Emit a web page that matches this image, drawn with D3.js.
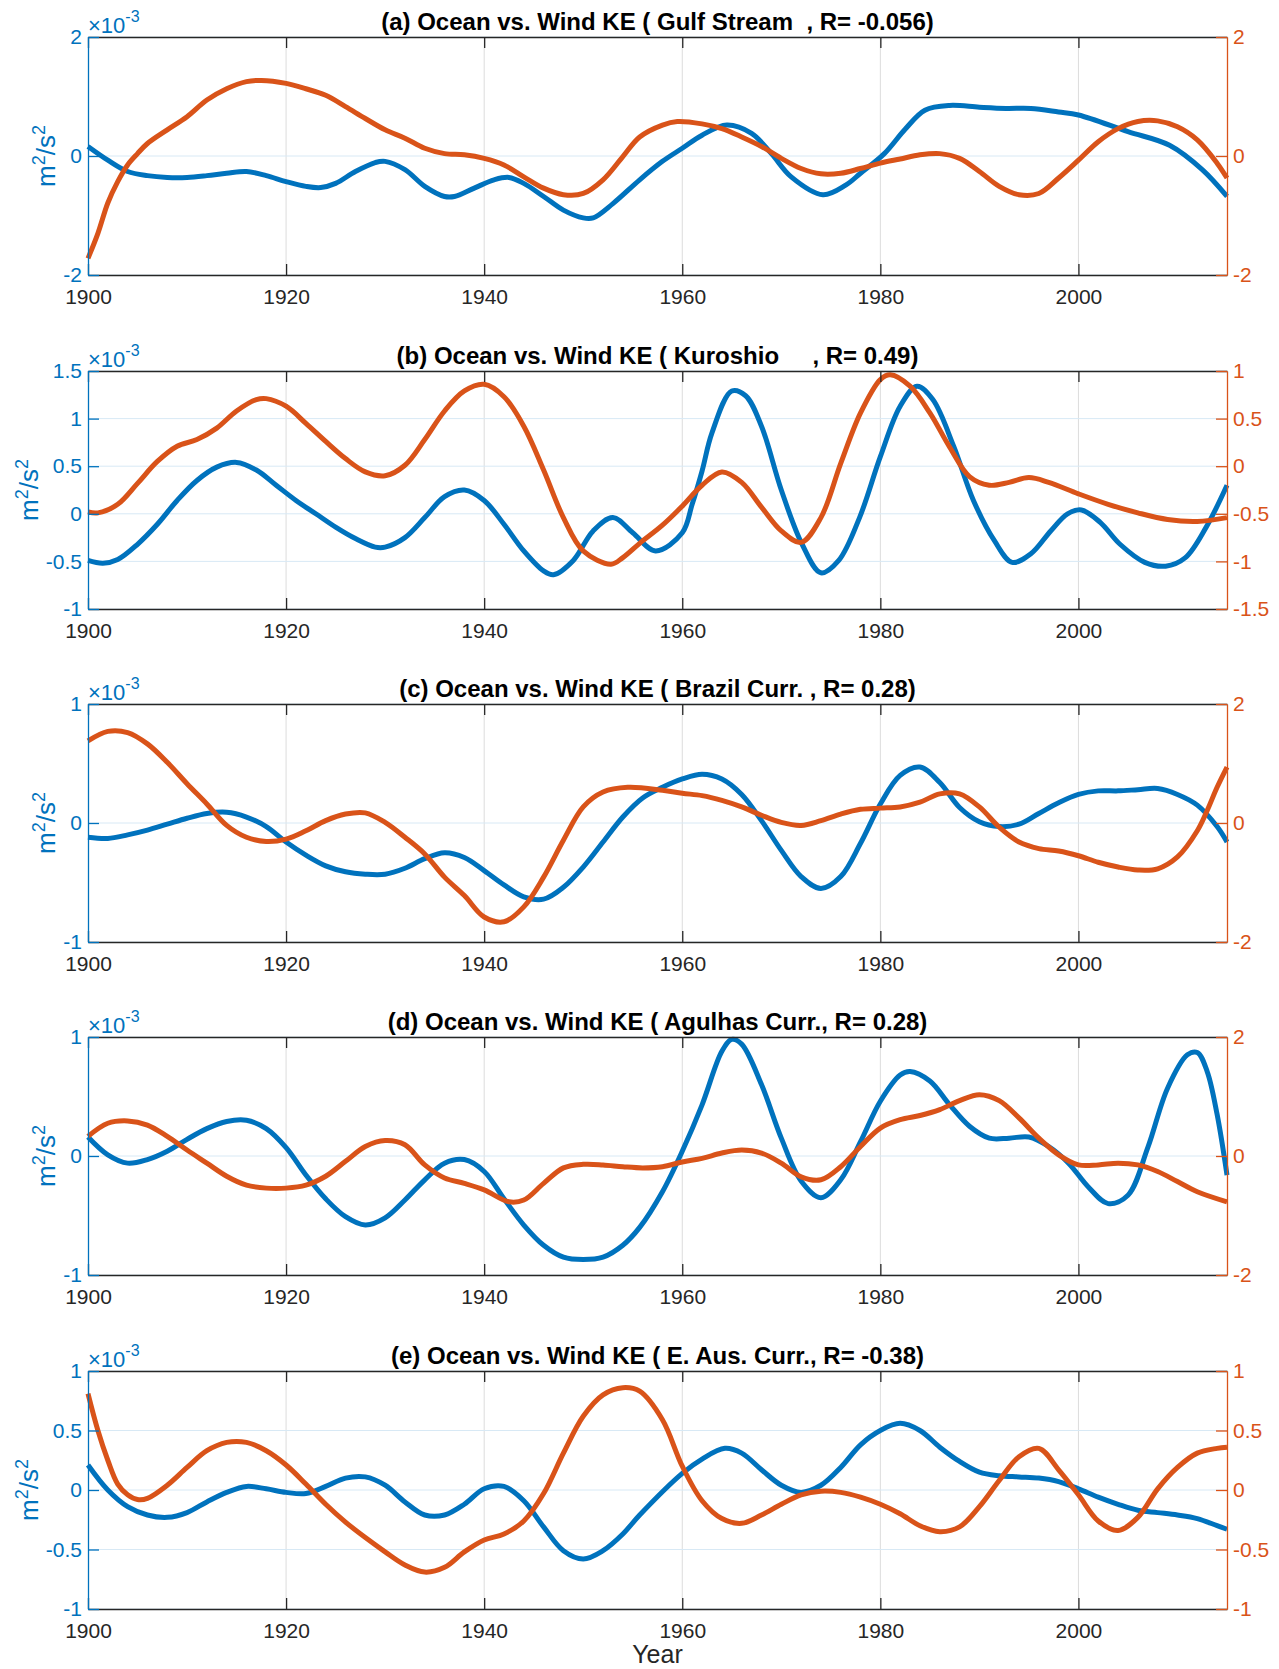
<!DOCTYPE html>
<html>
<head>
<meta charset="utf-8">
<script src="https://cdn.jsdelivr.net/npm/d3@7"></script>
<style>
  body { margin: 0; background: #fff; }
  svg { display: block; font-family: "Liberation Sans", Arial, Helvetica, sans-serif; }
</style>
</head>
<body>
<svg id="chart"></svg>
<script>
// Ocean vs wind KE, five current systems, yyaxis style panels
const W = 1279, H = 1669;

// ---- data (ocean KE in 1e-3 m2/s2 on left axis, wind KE on right axis) ----
const xDomain = [1900, 2015];
const xTicks = [1900, 1920, 1940, 1960, 1980, 2000];

const titles = [
  "(a) Ocean vs. Wind KE ( Gulf Stream  , R= -0.056)",
  "(b) Ocean vs. Wind KE ( Kuroshio     , R= 0.49)",
  "(c) Ocean vs. Wind KE ( Brazil Curr. , R= 0.28)",
  "(d) Ocean vs. Wind KE ( Agulhas Curr., R= 0.28)",
  "(e) Ocean vs. Wind KE ( E. Aus. Curr., R= -0.38)"
];
const leftDomains = [[-2, 2], [-1, 1.5], [-1, 1], [-1, 1], [-1, 1]];
const leftTicks = [[-2, 0, 2], [-1, -0.5, 0, 0.5, 1, 1.5], [-1, 0, 1], [-1, 0, 1], [-1, -0.5, 0, 0.5, 1]];
const rightDomains = [[-2, 2], [-1.5, 1], [-2, 2], [-2, 2], [-1, 1]];
const rightTicks = [[-2, 0, 2], [-1.5, -1, -0.5, 0, 0.5, 1], [-2, 0, 2], [-2, 0, 2], [-1, -0.5, 0, 0.5, 1]];

const gulfOcean = [[1900,0.16],[1902,-0.07],[1904,-0.26],[1906,-0.33],[1908,-0.36],[1910,-0.36],[1912,-0.33],[1914,-0.29],[1916,-0.26],[1918,-0.33],[1920,-0.43],[1922,-0.51],[1923.5,-0.53],[1925,-0.46],[1927,-0.26],[1929,-0.11],[1930,-0.09],[1932,-0.23],[1934,-0.51],[1936,-0.68],[1937,-0.68],[1939,-0.54],[1941,-0.40],[1942.5,-0.36],[1944,-0.46],[1946,-0.68],[1948,-0.91],[1950,-1.04],[1951,-1.04],[1953,-0.80],[1955.7,-0.40],[1958,-0.09],[1960,0.13],[1962,0.35],[1964.5,0.52],[1967,0.38],[1969,0.04],[1971,-0.35],[1974.2,-0.65],[1976.5,-0.49],[1978,-0.29],[1980.4,0.04],[1982.5,0.45],[1984.5,0.77],[1987,0.85],[1990,0.82],[1992.7,0.80],[1995.2,0.80],[1998,0.74],[2000,0.69],[2005,0.41],[2009.2,0.18],[2012.5,-0.23],[2015,-0.68]];
const gulfWind = [[1900,-1.72],[1901,-1.30],[1902,-0.79],[1903,-0.43],[1904,-0.15],[1905,0.04],[1906,0.21],[1908,0.44],[1910,0.66],[1912,0.94],[1914,1.13],[1916,1.25],[1917.5,1.27],[1920,1.22],[1922,1.13],[1924,1.02],[1926,0.83],[1928,0.63],[1930,0.44],[1932,0.30],[1934,0.13],[1936,0.04],[1938,0.02],[1940,-0.04],[1942,-0.15],[1944,-0.35],[1946,-0.54],[1948,-0.65],[1950,-0.63],[1952,-0.40],[1954,-0.01],[1955.7,0.32],[1958,0.52],[1959.5,0.58],[1962,0.54],[1964,0.46],[1966,0.32],[1968,0.16],[1970,-0.04],[1972,-0.21],[1974,-0.30],[1976,-0.29],[1978,-0.21],[1980,-0.12],[1982,-0.05],[1984,0.02],[1986,0.04],[1988,-0.04],[1990,-0.26],[1992,-0.51],[1994,-0.65],[1996,-0.63],[1998,-0.37],[2000,-0.07],[2002,0.24],[2004,0.46],[2006,0.58],[2008,0.59],[2010,0.49],[2012,0.27],[2014,-0.12],[2015,-0.37]];

const kuroOcean = [[1900,-0.49],[1901.5,-0.52],[1903,-0.48],[1905,-0.32],[1907,-0.11],[1909,0.14],[1911,0.35],[1913,0.49],[1915,0.54],[1917,0.46],[1919,0.30],[1921,0.14],[1923,0.0],[1925,-0.14],[1927,-0.26],[1929,-0.35],[1930,-0.35],[1932,-0.25],[1934,-0.04],[1936,0.18],[1938,0.25],[1940,0.14],[1942,-0.11],[1944,-0.39],[1946,-0.60],[1947,-0.64],[1949,-0.49],[1951,-0.18],[1953,-0.04],[1955,-0.20],[1957.3,-0.39],[1960,-0.2],[1961,0.1],[1962,0.45],[1963,0.85],[1965,1.29],[1966.4,1.24],[1968,0.92],[1970,0.25],[1972.1,-0.32],[1974,-0.62],[1975.8,-0.49],[1977.9,-0.04],[1980,0.60],[1982,1.13],[1983.7,1.34],[1985.3,1.20],[1987.4,0.71],[1989.4,0.14],[1991.5,-0.28],[1993.3,-0.51],[1995.2,-0.42],[1997.2,-0.18],[1998.9,0.0],[2000.3,0.04],[2002.2,-0.09],[2004.2,-0.32],[2006.7,-0.51],[2008.8,-0.55],[2010.8,-0.46],[2012.9,-0.14],[2015,0.30]];
const kuroWind = [[1900,-0.48],[1901,-0.49],[1903,-0.40],[1905,-0.18],[1907,0.05],[1909,0.21],[1911,0.28],[1913,0.40],[1915,0.58],[1917,0.70],[1918,0.71],[1920,0.63],[1922,0.45],[1924,0.26],[1926,0.08],[1928,-0.06],[1930,-0.10],[1932,0.01],[1934,0.28],[1936,0.58],[1938,0.79],[1940,0.86],[1942,0.73],[1944,0.42],[1946,-0.04],[1948,-0.54],[1950,-0.89],[1952.8,-1.03],[1954,-0.96],[1955.7,-0.81],[1958,-0.62],[1960,-0.42],[1962,-0.2],[1964,-0.06],[1966,-0.17],[1968,-0.43],[1970,-0.68],[1972,-0.80],[1974,-0.54],[1976,0.03],[1978,0.56],[1980,0.91],[1981,0.96],[1983,0.84],[1985,0.56],[1987,0.20],[1989,-0.11],[1991,-0.20],[1993,-0.17],[1995,-0.12],[1997,-0.17],[2000,-0.29],[2003,-0.40],[2006,-0.49],[2009,-0.56],[2012,-0.58],[2015,-0.54]];

const brazilOcean = [[1900,-0.12],[1902,-0.13],[1904,-0.10],[1906,-0.06],[1908,-0.01],[1910,0.04],[1912,0.08],[1914,0.09],[1916,0.05],[1918,-0.03],[1920,-0.16],[1922,-0.27],[1924,-0.36],[1926,-0.41],[1928,-0.43],[1930,-0.43],[1932,-0.38],[1934,-0.30],[1936,-0.25],[1938,-0.29],[1940,-0.40],[1942,-0.52],[1944,-0.62],[1946,-0.64],[1948,-0.54],[1950,-0.37],[1952,-0.16],[1954,0.05],[1956,0.21],[1958,0.30],[1960,0.37],[1962,0.41],[1964,0.37],[1966,0.24],[1968,0.02],[1970,-0.23],[1972,-0.45],[1974,-0.55],[1976,-0.45],[1978,-0.17],[1980,0.16],[1982,0.40],[1984,0.47],[1986,0.34],[1988,0.13],[1990,0.01],[1992,-0.03],[1994,-0.01],[1996,0.08],[1998,0.17],[2000,0.24],[2002,0.27],[2004,0.27],[2006,0.28],[2008,0.29],[2010,0.24],[2012,0.15],[2014,-0.03],[2015,-0.16]];
const brazilWind = [[1900,1.38],[1902,1.54],[1904,1.52],[1906,1.33],[1908,1.02],[1910,0.66],[1912,0.32],[1914,-0.04],[1916,-0.24],[1918,-0.31],[1920,-0.27],[1922,-0.13],[1924,0.04],[1926,0.15],[1928,0.17],[1930,0.01],[1932,-0.24],[1934,-0.52],[1936,-0.91],[1938,-1.22],[1940,-1.58],[1942,-1.66],[1944,-1.41],[1946,-0.91],[1948,-0.29],[1950,0.27],[1952,0.52],[1954.5,0.60],[1958,0.55],[1960,0.50],[1962,0.46],[1964,0.38],[1966,0.27],[1968,0.13],[1970,0.01],[1972,-0.04],[1974,0.04],[1976,0.15],[1978,0.23],[1980,0.25],[1982,0.27],[1984,0.35],[1986,0.49],[1988,0.49],[1990,0.27],[1992,-0.07],[1994,-0.32],[1996,-0.43],[1998,-0.47],[2000,-0.55],[2002,-0.66],[2004,-0.74],[2006,-0.79],[2008,-0.77],[2010,-0.57],[2012,-0.13],[2013,0.21],[2014,0.60],[2015,0.94]];

const agulOcean = [[1900,0.16],[1902,0.01],[1904,-0.06],[1906,-0.03],[1908,0.04],[1910,0.14],[1912,0.23],[1914,0.29],[1916,0.30],[1918,0.23],[1920,0.07],[1922,-0.16],[1924,-0.36],[1926,-0.51],[1928,-0.58],[1930,-0.52],[1932,-0.37],[1934,-0.20],[1936,-0.06],[1938,-0.03],[1940,-0.13],[1942,-0.36],[1944,-0.58],[1946,-0.75],[1948,-0.85],[1950,-0.87],[1952,-0.85],[1954,-0.75],[1955.7,-0.60],[1958,-0.30],[1960,0.04],[1962,0.43],[1964,0.88],[1965,0.98],[1966,0.94],[1968,0.60],[1970,0.15],[1972,-0.21],[1974,-0.35],[1976,-0.20],[1978,0.12],[1980,0.46],[1982,0.68],[1983,0.71],[1985,0.63],[1987,0.43],[1989,0.25],[1991,0.15],[1993,0.15],[1995,0.16],[1997,0.08],[1999,-0.06],[2001,-0.26],[2003,-0.40],[2005,-0.33],[2007,0.07],[2009,0.57],[2011,0.85],[2012,0.87],[2013,0.71],[2014,0.35],[2015,-0.16]];
const agulWind = [[1900,0.33],[1902,0.55],[1904,0.59],[1906,0.52],[1908,0.33],[1910,0.10],[1912,-0.12],[1914,-0.34],[1916,-0.49],[1918,-0.54],[1920,-0.54],[1922,-0.49],[1924,-0.34],[1926,-0.09],[1928,0.16],[1930,0.26],[1932,0.19],[1934,-0.15],[1936,-0.37],[1938,-0.46],[1940,-0.57],[1942.5,-0.77],[1944,-0.74],[1946,-0.46],[1948,-0.20],[1950,-0.14],[1952,-0.15],[1954,-0.18],[1956,-0.20],[1958,-0.18],[1960,-0.10],[1962,-0.04],[1964,0.05],[1966,0.10],[1968,0.05],[1970,-0.12],[1972,-0.35],[1974,-0.40],[1976,-0.18],[1978,0.16],[1980,0.47],[1982,0.61],[1984,0.68],[1986,0.78],[1988,0.93],[1990,1.03],[1992,0.93],[1994,0.64],[1996,0.30],[1998,0.02],[2000,-0.15],[2002,-0.15],[2004,-0.12],[2006,-0.15],[2008,-0.26],[2010,-0.43],[2012,-0.60],[2015,-0.77]];

const eacOcean = [[1900,0.21],[1902,0.0],[1904,-0.14],[1906,-0.21],[1908,-0.23],[1910,-0.19],[1912,-0.10],[1914,-0.02],[1916,0.03],[1918,0.01],[1920,-0.02],[1922,-0.03],[1924,0.03],[1926,0.10],[1928,0.11],[1930,0.04],[1932,-0.10],[1934,-0.21],[1936,-0.21],[1938,-0.12],[1940,0.01],[1942,0.03],[1944,-0.09],[1946,-0.31],[1948,-0.51],[1950,-0.58],[1952,-0.51],[1954,-0.37],[1955.7,-0.21],[1960,0.14],[1962,0.26],[1964.3,0.35],[1966,0.31],[1968,0.17],[1970,0.04],[1972,-0.02],[1974,0.04],[1976,0.19],[1978,0.38],[1980,0.50],[1982,0.56],[1984,0.50],[1986,0.36],[1988,0.24],[1990,0.15],[1992,0.12],[1994,0.11],[1996,0.10],[1998,0.07],[2000,0.01],[2002,-0.06],[2004,-0.12],[2006,-0.17],[2008,-0.19],[2010,-0.21],[2012,-0.24],[2014,-0.30],[2015,-0.33]];
const eacWind = [[1900,0.81],[1901,0.50],[1902,0.25],[1903,0.05],[1904,-0.04],[1905,-0.08],[1906,-0.07],[1908,0.04],[1910,0.19],[1912,0.33],[1914,0.40],[1916,0.40],[1918,0.33],[1920,0.21],[1922,0.05],[1924,-0.12],[1926,-0.27],[1928,-0.40],[1930,-0.52],[1932,-0.63],[1934,-0.69],[1936,-0.65],[1938,-0.52],[1940,-0.42],[1942,-0.37],[1944,-0.26],[1946,-0.03],[1948,0.31],[1950,0.62],[1952,0.80],[1954,0.86],[1955.7,0.83],[1958,0.59],[1960,0.20],[1962,-0.09],[1964,-0.24],[1966,-0.28],[1968,-0.21],[1970,-0.12],[1972,-0.04],[1974,-0.01],[1976,-0.02],[1978,-0.06],[1980,-0.12],[1982,-0.20],[1984,-0.30],[1986,-0.35],[1988,-0.31],[1990,-0.14],[1992,0.08],[1994,0.28],[1996,0.35],[1998,0.17],[2000,-0.04],[2002,-0.26],[2004,-0.34],[2006,-0.23],[2008,0.01],[2010,0.19],[2012,0.31],[2014,0.35],[2015,0.36]];

const oceanSeries = [gulfOcean, kuroOcean, brazilOcean, agulOcean, eacOcean];
const windSeries = [gulfWind, kuroWind, brazilWind, agulWind, eacWind];

// ---- layout ----
const LEFT = 88, RIGHT = 1227;
const PANEL_TOP = [37, 371, 704, 1037, 1371];
const PANEL_H = 238;
const TICK = 11;
const TICK_FONT = 21;
const BLUE = "#0072BD", ORANGE = "#D95319", INK = "#262626";

const svg = d3.select("#chart").attr("width", W).attr("height", H);
svg.append("rect").attr("width", W).attr("height", H).attr("fill", "#fff");

const x = d3.scaleLinear().domain(xDomain).range([LEFT, RIGHT]);
const fmt = d => String(d);

titles.forEach((title, i) => {
  const top = PANEL_TOP[i], bottom = top + PANEL_H;
  const yL = d3.scaleLinear().domain(leftDomains[i]).range([bottom, top]);
  const yR = d3.scaleLinear().domain(rightDomains[i]).range([bottom, top]);
  const g = svg.append("g");

  // grid: vertical (gray), horizontal from left ticks (faint blue)
  g.append("g").selectAll("line").data(xTicks.slice(1)).join("line")
    .attr("x1", d => x(d)).attr("x2", d => x(d))
    .attr("y1", top).attr("y2", bottom)
    .attr("stroke", "#dcdcdc").attr("stroke-width", 1);
  g.append("g").selectAll("line").data(leftTicks[i]).join("line")
    .attr("x1", LEFT).attr("x2", RIGHT)
    .attr("y1", d => yL(d)).attr("y2", d => yL(d))
    .attr("stroke", "#d8e9f5").attr("stroke-width", 1);

  // series
  const lineL = d3.line().x(d => x(d[0])).y(d => yL(d[1])).curve(d3.curveCatmullRom.alpha(0.5));
  const lineR = d3.line().x(d => x(d[0])).y(d => yR(d[1])).curve(d3.curveCatmullRom.alpha(0.5));
  g.append("path").attr("d", lineL(oceanSeries[i]))
    .attr("fill", "none").attr("stroke", BLUE).attr("stroke-width", 5).attr("stroke-linejoin", "round");
  g.append("path").attr("d", lineR(windSeries[i]))
    .attr("fill", "none").attr("stroke", ORANGE).attr("stroke-width", 5).attr("stroke-linejoin", "round");

  // x axes (bottom with labels, top without)
  const xb = g.append("g").attr("transform", `translate(0,${bottom})`)
    .call(d3.axisBottom(x).tickValues(xTicks).tickFormat(fmt).tickSize(-TICK).tickSizeOuter(0).tickPadding(14));
  const xt = g.append("g").attr("transform", `translate(0,${top})`)
    .call(d3.axisTop(x).tickValues(xTicks).tickFormat("").tickSize(-TICK).tickSizeOuter(0));
  [xb, xt].forEach(a => {
    a.select(".domain").attr("stroke", INK).attr("stroke-width", 1.3);
    a.selectAll(".tick line").attr("stroke", INK).attr("stroke-width", 1.3);
    a.selectAll("text").attr("fill", INK).attr("font-size", TICK_FONT).attr("font-family", null);
  });

  // left axis
  const ya = g.append("g").attr("transform", `translate(${LEFT},0)`)
    .call(d3.axisLeft(yL).tickValues(leftTicks[i]).tickFormat(fmt).tickSize(-TICK).tickSizeOuter(0).tickPadding(6));
  ya.select(".domain").attr("stroke", BLUE).attr("stroke-width", 1.3);
  ya.selectAll(".tick line").attr("stroke", BLUE).attr("stroke-width", 1.3);
  ya.selectAll("text").attr("fill", BLUE).attr("font-size", TICK_FONT).attr("font-family", null);

  // right axis
  const yb = g.append("g").attr("transform", `translate(${RIGHT},0)`)
    .call(d3.axisRight(yR).tickValues(rightTicks[i]).tickFormat(fmt).tickSize(-TICK).tickSizeOuter(0).tickPadding(6));
  yb.select(".domain").attr("stroke", ORANGE).attr("stroke-width", 1.3);
  yb.selectAll(".tick line").attr("stroke", ORANGE).attr("stroke-width", 1.3);
  yb.selectAll("text").attr("fill", ORANGE).attr("font-size", TICK_FONT).attr("font-family", null);

  // exponent marker
  const ex = g.append("text").attr("x", LEFT).attr("y", top - 4)
    .attr("fill", BLUE).attr("font-size", 22);
  ex.append("tspan").text("\u00d710");
  ex.append("tspan").attr("dy", -11).attr("font-size", 16).text("-3");

  // y label, placed just left of the widest tick label
  const bb = ya.node().getBBox();
  const ylab = g.append("text")
    .attr("transform", `translate(${LEFT + bb.x - 8},${(top + bottom) / 2}) rotate(-90)`)
    .attr("text-anchor", "middle").attr("fill", BLUE).attr("font-size", 26);
  ylab.append("tspan").text("m");
  ylab.append("tspan").attr("dy", -10).attr("font-size", 18).text("2");
  ylab.append("tspan").attr("dy", 10).text("/s");
  ylab.append("tspan").attr("dy", -10).attr("font-size", 18).text("2");

  // title
  g.append("text").attr("x", (LEFT + RIGHT) / 2).attr("y", top - 7)
    .attr("text-anchor", "middle").attr("font-weight", "bold").attr("font-size", 24)
    .attr("fill", "#000").style("white-space", "pre").text(title);
});

svg.append("text").attr("x", (LEFT + RIGHT) / 2).attr("y", 1663)
  .attr("text-anchor", "middle").attr("fill", INK).attr("font-size", 25).text("Year");
</script>
</body>
</html>
